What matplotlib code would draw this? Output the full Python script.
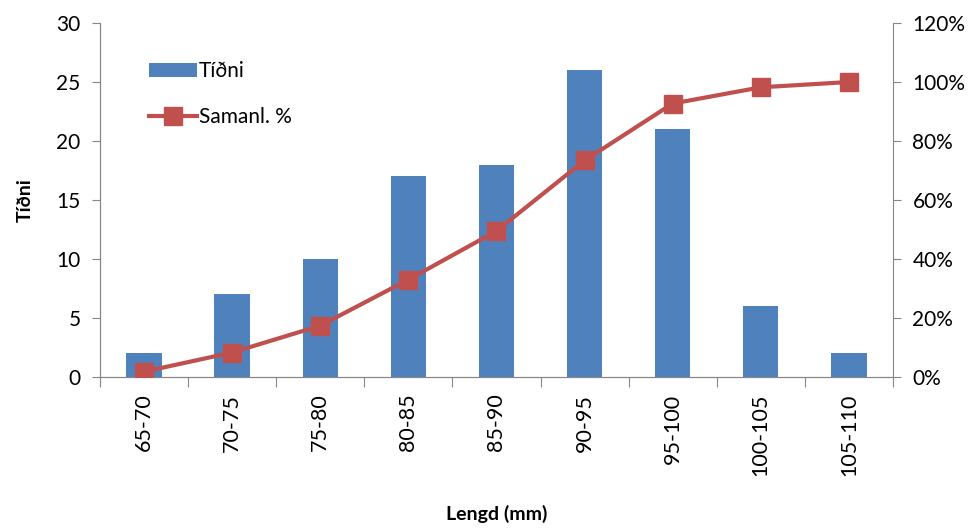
import numpy as np
import matplotlib.pyplot as plt

plt.rcParams['font.family'] = ['Lato', 'DejaVu Sans']

# Data
categories = ["65-70", "70-75", "75-80", "80-85", "85-90", "90-95", "95-100", "100-105", "105-110"]
tidni = [2, 7, 10, 17, 18, 26, 21, 6, 2]
samanl_pct = [1.8, 8.3, 17.4, 33.0, 49.5, 73.4, 92.7, 98.2, 100.0]

bar_color = "#4F81BD"
line_color = "#C0504D"
grey = "#868686"

fig = plt.figure(figsize=(9.79, 5.31), dpi=100)
ax = fig.add_axes([0.1021, 0.290, 0.810, 0.6667])
ax2 = ax.twinx()

x = np.arange(len(categories))
bars = ax.bar(x, tidni, width=0.4, color=bar_color, label="Tíðni", zorder=2)
line, = ax2.plot(x, samanl_pct, color=line_color, lw=3, marker="s", markersize=13,
                 label="Samanl. %", zorder=3)

ax.set_xlim(-0.5, len(categories) - 0.5)
ax.set_ylim(0, 30)
ax2.set_ylim(0, 120)
ax.set_yticks(range(0, 31, 5))
ax2.set_yticks(range(0, 121, 20))
ax2.set_yticklabels([f"{v}%" for v in range(0, 121, 20)])

# category ticks between bars
ax.set_xticks(np.arange(-0.5, len(categories), 1))
ax.set_xticklabels([])
ax.set_xticks(x, minor=True)
ax.set_xticklabels(categories, minor=True, rotation=90, fontsize=15.5)
ax.tick_params(axis="x", which="major", length=7, color=grey, direction="out")
ax.tick_params(axis="x", which="minor", length=0, pad=12)

ax.tick_params(axis="y", labelsize=15, length=6, color=grey, pad=8)
ax2.tick_params(axis="y", labelsize=15, length=6, color=grey, pad=8)

for a in (ax, ax2):
    a.spines["top"].set_visible(False)
    for s in ("left", "right", "bottom"):
        a.spines[s].set_color(grey)
ax.spines["right"].set_visible(False)

ax.set_ylabel("Tíðni", fontsize=14, fontweight="bold", labelpad=16)
ax.set_xlabel("Lengd (mm)", fontsize=14, fontweight="bold", labelpad=21)

fig.legend(handles=[bars, line], labels=["Tíðni", "Samanl. %"],
           loc="upper left", bbox_to_anchor=(0.133, 0.92), frameon=False,
           fontsize=15, handlelength=2.3, labelspacing=1.25, handletextpad=0.1)

plt.savefig("out.png", dpi=100)
